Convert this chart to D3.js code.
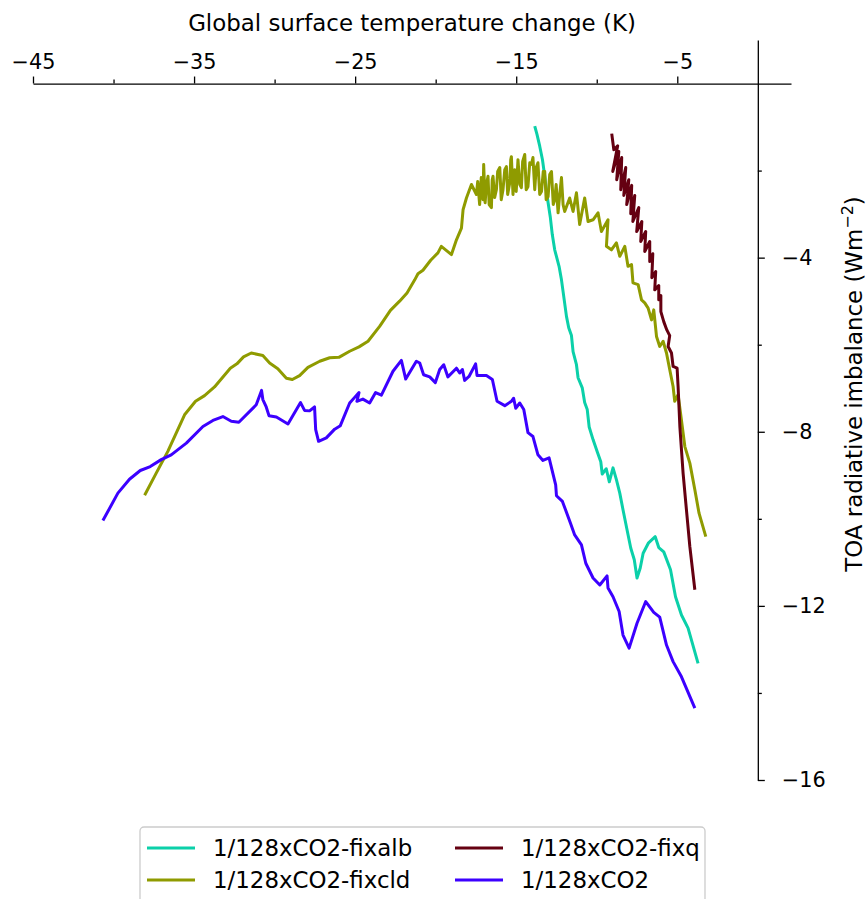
<!DOCTYPE html>
<html>
<head>
<meta charset="utf-8">
<script src="https://cdn.jsdelivr.net/npm/d3@7"></script>
<style>
body { margin: 0; background: #fff; }
text { font-family: "DejaVu Sans", sans-serif; }
</style>
</head>
<body>
<div id="chart"></div>
<script>
// temperature change (K) and TOA imbalance (W m-2)
const fixalbT = [-13.85,-13.71,-13.54,-13.37,-13.23,-13.12,-13.02,-12.88,-12.76,-12.61,-12.34,-12.19,-12.09,-11.88,-11.74,-11.57,-11.47,-11.26,-11.16,-10.90,-10.75,-10.59,-10.47,-10.23,-9.97,-9.75,-9.66,-9.41,-9.22,-8.99,-8.78,-8.57,-8.37,-8.12,-7.89,-7.67,-7.50,-7.30,-7.12,-6.80,-6.37,-6.15,-5.84,-5.42,-5.11,-4.74,-4.33,-3.71];
const fixalbN = [-0.98,-1.17,-1.44,-1.75,-2.13,-2.48,-2.74,-3.08,-3.47,-3.82,-4.20,-4.51,-4.78,-5.35,-5.61,-5.79,-6.16,-6.46,-6.76,-6.99,-7.33,-7.49,-7.89,-8.18,-8.46,-8.69,-8.97,-8.85,-9.15,-8.83,-9.10,-9.41,-9.79,-10.25,-10.67,-10.94,-11.36,-11.13,-10.79,-10.56,-10.41,-10.66,-10.76,-11.17,-11.79,-12.21,-12.51,-13.32];

const fixcldT = [-38.07,-37.35,-36.63,-35.59,-34.91,-34.35,-33.73,-32.75,-32.34,-31.93,-31.45,-30.73,-30.31,-29.80,-29.27,-28.90,-28.45,-27.93,-27.20,-26.58,-26.01,-25.34,-24.76,-24.20,-23.48,-22.81,-22.24,-21.78,-21.30,-21.10,-20.79,-20.31,-19.86,-19.65,-19.02,-18.71,-18.40,-18.30,-18.09,-17.78,
  -17.47,-17.39,-17.27,-17.17,-17.06,-17.02,-16.93,-16.85,-16.75,-16.68,-16.54,-16.49,-16.44,-16.34,-16.23,-16.15,-16.02,-15.93,-15.82,-15.71,-15.61,-15.53,-15.40,-15.34,-15.30,-15.20,-15.09,-15.00,-14.89,-14.78,-14.68,-14.60,-14.47,-14.38,-14.27,-14.16,-14.06,-13.96,-13.85,-13.76,-13.65,-13.54,-13.43,-13.32,-13.23,-13.14,-13.02,-12.92,-12.81,-12.70,-12.61,-12.52,-12.40,-12.30,-12.19,-12.09,-11.99,
  -11.68,-11.47,-11.26,-11.06,-10.75,-10.54,-10.23,-9.92,-9.71,-9.30,-9.40,-9.09,-8.78,-8.57,-8.26,-8.06,-7.84,-7.75,-7.43,-7.22,-7.02,-6.81,-6.60,-6.46,-6.29,-6.09,-5.88,-5.67,-5.47,-5.26,-5.16,-4.95,-4.80,-4.53,-4.22,-3.91,-3.65,-3.23];
const fixcldN = [-9.46,-8.95,-8.45,-7.61,-7.30,-7.17,-6.97,-6.54,-6.44,-6.28,-6.19,-6.25,-6.42,-6.55,-6.77,-6.80,-6.71,-6.52,-6.38,-6.30,-6.29,-6.15,-6.05,-5.92,-5.58,-5.21,-5.00,-4.81,-4.51,-4.37,-4.29,-4.06,-3.89,-3.74,-3.93,-3.59,-3.32,-2.90,-2.63,-2.32,
  -2.55,-2.25,-2.78,-2.16,-2.67,-1.86,-2.74,-2.32,-2.13,-2.78,-2.85,-2.21,-2.13,-2.62,-2.44,-2.02,-1.93,-2.67,-2.44,-1.98,-1.91,-2.55,-2.28,-1.75,-1.68,-2.55,-1.98,-2.48,-1.75,-2.32,-2.39,-1.79,-1.63,-2.44,-2.37,-1.82,-1.86,-1.70,-2.44,-1.93,-1.82,-2.55,-2.48,-2.02,-2.02,-2.67,-2.60,-2.09,-2.02,-2.78,-2.67,-2.32,-2.97,-2.55,-2.16,-2.78,-2.94,
  -2.63,-2.94,-2.51,-3.24,-2.63,-3.17,-3.13,-2.97,-3.40,-3.13,-3.74,-3.82,-3.66,-3.97,-3.74,-4.20,-4.16,-4.58,-4.62,-4.97,-5.04,-5.16,-5.43,-5.20,-5.81,-6.04,-5.92,-6.19,-6.57,-6.96,-7.30,-7.15,-7.57,-8.34,-8.72,-9.33,-9.87,-10.41];

const fixqT = [-9.07,-8.94,-8.70,-9.01,-8.63,-8.76,-8.45,-8.51,-8.20,-8.32,-8.01,-8.14,-7.83,-7.89,-7.64,-7.76,-7.39,-7.52,-7.20,-7.27,-6.96,-7.02,-6.71,-6.71,-6.52,-6.58,-6.34,-6.40,-6.15,-6.15,-6.02,-6.02,-5.84,-5.65,-5.47,-5.57,-5.36,-5.26,-5.01,-4.95,-4.84,-4.64,-4.47,-4.22,-3.91];
const fixqN = [-1.15,-1.52,-1.43,-2.02,-1.56,-2.21,-1.70,-2.44,-1.93,-2.57,-2.21,-2.78,-2.34,-2.99,-2.57,-3.17,-2.85,-3.40,-3.17,-3.63,-3.40,-3.86,-3.63,-4.09,-3.91,-4.46,-4.32,-4.74,-4.64,-4.97,-4.87,-5.24,-5.47,-5.66,-5.79,-6.04,-6.19,-6.50,-6.54,-6.96,-7.88,-8.95,-9.64,-10.64,-11.63];

const co2T = [-40.66,-39.73,-39.01,-38.34,-37.72,-37.04,-36.42,-35.48,-34.45,-33.83,-33.21,-32.69,-32.22,-31.14,-30.81,-30.73,-30.52,-30.35,-29.89,-29.17,-28.39,-28.14,-27.83,-27.52,-27.45,-27.27,-26.79,-26.27,-25.92,-25.34,-25.03,-24.76,-24.89,-24.52,-24.10,-23.73,-23.37,-22.65,-22.13,-21.86,-21.20,-20.99,-20.75,-20.37,-20.02,-19.75,-19.50,-19.24,-18.71,-18.51,-18.34,-18.20,-17.93,-17.52,-17.43,-16.85,-16.48,-16.19,-15.71,-15.30,-15.16,-15.03,-14.78,-14.53,-14.27,-13.96,-13.65,-13.34,-12.96,-12.55,-12.50,-12.13,-11.63,-11.37,-10.95,-10.68,-10.23,-9.81,-9.36,-9.30,-8.99,-8.61,-8.37,-7.99,-7.50,-6.96,-6.46,-6.09,-5.67,-5.26,-4.74,-3.91];
const co2N = [-10.04,-9.41,-9.09,-8.89,-8.80,-8.64,-8.53,-8.26,-7.88,-7.74,-7.65,-7.76,-7.78,-7.38,-7.05,-7.26,-7.43,-7.63,-7.66,-7.82,-7.33,-7.51,-7.52,-7.43,-7.95,-8.22,-8.14,-7.94,-7.86,-7.34,-7.21,-7.10,-7.30,-7.25,-7.34,-7.10,-7.16,-6.61,-6.36,-6.79,-6.38,-6.42,-6.69,-6.74,-6.87,-6.57,-6.46,-6.74,-6.54,-6.65,-6.57,-6.82,-6.73,-6.44,-6.71,-6.71,-6.80,-7.30,-7.40,-7.30,-7.23,-7.46,-7.34,-7.49,-8.02,-8.11,-8.53,-8.66,-8.60,-9.22,-9.47,-9.60,-10.10,-10.37,-10.60,-11.02,-11.36,-11.52,-11.31,-11.59,-11.79,-12.13,-12.67,-12.97,-12.40,-11.90,-12.15,-12.26,-12.90,-13.28,-13.63,-14.35];

const seriesNames = ["1/128xCO2-fixalb", "1/128xCO2-fixcld", "1/128xCO2-fixq", "1/128xCO2"];
const seriesColors = ["#0bd0a9", "#8f9b00", "#650011", "#3c00ff"];

const xMajor = [-45, -35, -25, -15, -5];
const xMinor = [-40, -30, -20, -10];
const yMajor = [-4, -8, -12, -16];
const yMinor = [-2, -6, -10, -14];

const width = 867, height = 899;
const tickFont = 20.8, labelFont = 22.9;

const svg = d3.select("#chart").append("svg")
    .attr("width", width).attr("height", height)
    .style("background", "#fff");

const x = d3.scaleLinear().domain([-45, 2.06]).range([33, 791]);
const y = d3.scaleLinear().domain([1.0, -16]).range([40, 780]);

const series = [
    d3.zip(fixalbT, fixalbN),
    d3.zip(fixcldT, fixcldN),
    d3.zip(fixqT, fixqN),
    d3.zip(co2T, co2N)
];

const line = d3.line().x(d => x(d[0])).y(d => y(d[1]));

series.forEach((pts, i) => {
    svg.append("path")
        .attr("d", line(pts))
        .attr("fill", "none")
        .attr("stroke", seriesColors[i])
        .attr("stroke-width", 3)
        .attr("stroke-linejoin", "round");
});

// x axis sits on y = 0, labels on top
const fmt = d3.format("");
svg.append("g").attr("transform", `translate(0,${y(0)})`)
    .call(d3.axisTop(x).tickValues(xMajor).tickSize(7).tickSizeOuter(0).tickPadding(8).tickFormat(fmt));
svg.append("g").attr("transform", `translate(0,${y(0)})`)
    .call(d3.axisTop(x).tickValues(xMinor).tickSize(4).tickFormat(""))
    .call(g => g.select(".domain").remove());

// y axis sits on x = 0, labels to the right
svg.append("g").attr("transform", `translate(${x(0)},0)`)
    .call(d3.axisRight(y).tickValues(yMajor).tickSize(7).tickSizeOuter(0).tickPadding(17).tickFormat(fmt));
svg.append("g").attr("transform", `translate(${x(0)},0)`)
    .call(d3.axisRight(y).tickValues(yMinor).tickSize(4).tickFormat(""))
    .call(g => g.select(".domain").remove());

svg.selectAll(".domain, .tick line").attr("stroke", "#000").attr("stroke-width", 1.3);
svg.selectAll(".tick text")
    .attr("font-family", "DejaVu Sans")
    .attr("font-size", tickFont)
    .attr("fill", "#000");

svg.append("text")
    .attr("x", (x.range()[0] + x.range()[1]) / 2)
    .attr("y", 31)
    .attr("text-anchor", "middle")
    .attr("font-size", labelFont)
    .text("Global surface temperature change (K)");

const ylab = svg.append("text")
    .attr("transform", "translate(862,384) rotate(-90)")
    .attr("text-anchor", "middle")
    .attr("font-size", labelFont);
ylab.append("tspan").text("TOA radiative imbalance (Wm");
ylab.append("tspan").attr("dy", -9).attr("font-size", 16).text("\u22122");
ylab.append("tspan").attr("dy", 9).text(")");

// legend, two columns
const legend = svg.append("g");
legend.append("rect")
    .attr("x", 140).attr("y", 827)
    .attr("width", 565).attr("height", 100)
    .attr("rx", 4)
    .attr("fill", "#fff").attr("fill-opacity", 0.8)
    .attr("stroke", "#cccccc").attr("stroke-width", 1.3);

const colX = [147, 455];
const rowY = [848, 880];
seriesNames.forEach((name, k) => {
    const cx = colX[Math.floor(k / 2)], cy = rowY[k % 2];
    legend.append("line")
        .attr("x1", cx).attr("x2", cx + 48)
        .attr("y1", cy).attr("y2", cy)
        .attr("stroke", seriesColors[k]).attr("stroke-width", 3);
    legend.append("text")
        .attr("x", cx + 66).attr("y", cy)
        .attr("dy", "0.35em")
        .attr("font-size", labelFont)
        .text(name);
});
</script>
</body>
</html>
